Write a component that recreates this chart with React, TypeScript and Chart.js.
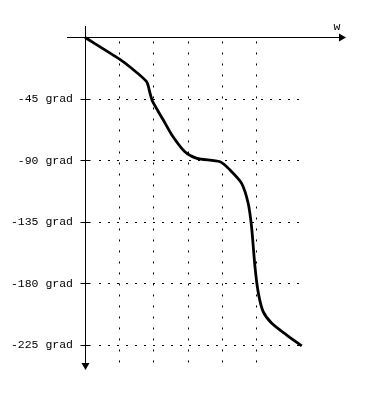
import React, { useEffect, useRef } from "react";
import { Chart, registerables } from "chart.js";

Chart.register(...registerables);

// Phase curve (x in grid units, y in degrees)
const W_VALUES = [0, 1.02, 1.316, 1.8, 1.9, 1.98, 2.29, 2.54, 2.92, 3.27, 3.95, 4.24, 4.58, 4.77, 4.87, 4.97, 5.07, 5.21, 5.46, 5.9, 6.34];
const PHASE_VALUES = [0, -16.0, -21.6, -32.3, -40.6, -47.0, -60.4, -71.3, -83.6, -88.4, -90.9, -96.9, -106.7, -121.1, -138.4, -167.7, -187.2, -200.6, -209.1, -217.7, -225.7];

const Y_TICKS = [-45, -90, -135, -180, -225];
const Y_TICK_LABELS = ["-45 grad", "-90 grad", "-135 grad", "-180 grad", "-225 grad"];
const X_GRID = [1, 2, 3, 4, 5];
const X_AXIS_LABEL = "w";

const X_MIN = -0.526;
const X_MAX = 7.632;
const Y_MIN = -243.3;
const Y_MAX = 8.4;
const H_GRID_END = 6.43;

const FONT = "11.5px 'Liberation Mono', 'DejaVu Sans Mono', monospace";

const axesPlugin = {
  id: "manualAxes",
  beforeDatasetsDraw(chart: any) {
    const ctx = chart.ctx;
    const xs = chart.scales.x;
    const ys = chart.scales.y;
    const x0 = xs.getPixelForValue(0);
    const y0 = ys.getPixelForValue(0);
    const left = xs.getPixelForValue(X_MIN);
    const right = xs.getPixelForValue(X_MAX);
    const top = ys.getPixelForValue(Y_MAX);
    const bottom = ys.getPixelForValue(Y_MIN);
    ctx.save();
    // vertical dotted grid
    ctx.strokeStyle = "#000";
    ctx.lineWidth = 1;
    ctx.setLineDash([2, 9]);
    X_GRID.forEach((v) => {
      const px = Math.round(xs.getPixelForValue(v)) + 0.5;
      ctx.beginPath();
      ctx.moveTo(px, y0 + 4);
      ctx.lineTo(px, bottom + 1);
      ctx.stroke();
    });
    // horizontal dashed grid
    ctx.setLineDash([2, 7]);
    const hEnd = xs.getPixelForValue(H_GRID_END);
    Y_TICKS.forEach((v) => {
      const py = Math.round(ys.getPixelForValue(v)) + 0.5;
      ctx.beginPath();
      ctx.moveTo(x0 + 14, py);
      ctx.lineTo(hEnd, py);
      ctx.stroke();
    });
    ctx.setLineDash([]);
    // axes
    const ax = Math.round(x0) + 0.5;
    const ay = Math.round(y0) + 0.5;
    ctx.beginPath();
    ctx.moveTo(left, ay);
    ctx.lineTo(right - 6, ay);
    ctx.moveTo(ax, top);
    ctx.lineTo(ax, bottom - 5);
    ctx.stroke();
    // ticks
    Y_TICKS.forEach((v) => {
      const py = Math.round(ys.getPixelForValue(v)) + 0.5;
      ctx.beginPath();
      ctx.moveTo(ax - 5, py);
      ctx.lineTo(ax + 5, py);
      ctx.stroke();
    });
    // arrows
    ctx.fillStyle = "#000";
    ctx.beginPath();
    ctx.moveTo(right, ay);
    ctx.lineTo(right - 7, ay - 4);
    ctx.lineTo(right - 7, ay + 4);
    ctx.closePath();
    ctx.fill();
    ctx.beginPath();
    ctx.moveTo(ax, bottom);
    ctx.lineTo(ax - 4, bottom - 7);
    ctx.lineTo(ax + 4, bottom - 7);
    ctx.closePath();
    ctx.fill();
    // labels
    ctx.font = FONT;
    ctx.textAlign = "right";
    ctx.textBaseline = "middle";
    Y_TICKS.forEach((v, i) => {
      const py = ys.getPixelForValue(v);
      ctx.fillText(Y_TICK_LABELS[i], 73, py);
    });
    ctx.textAlign = "center";
    ctx.fillText(X_AXIS_LABEL, right - 9, ay - 11);
    ctx.restore();
  },
};

export default function App() {
  const ref = useRef<HTMLCanvasElement | null>(null);
  useEffect(() => {
    if (!ref.current) return;
    const chart = new Chart(ref.current, {
      type: "line",
      data: {
        datasets: [
          {
            data: W_VALUES.map((w, i) => ({ x: w, y: PHASE_VALUES[i] })),
            borderColor: "#000",
            borderWidth: 2.8,
            pointRadius: 0,
            tension: 0.25,
            fill: false,
            clip: false as any,
          },
        ],
      },
      options: {
        animation: false,
        responsive: true,
        maintainAspectRatio: false,
        layout: { padding: { left: 67, right: 20, top: 26, bottom: 28 } },
        scales: {
          x: { type: "linear", display: false, min: X_MIN, max: X_MAX },
          y: { type: "linear", display: false, min: Y_MIN, max: Y_MAX },
        },
        plugins: { legend: { display: false }, tooltip: { enabled: false } },
      },
      plugins: [axesPlugin],
    });
    return () => chart.destroy();
  }, []);
  return (
    <div style={{ position: "absolute", left: 0, top: 0, width: 366, height: 398, background: "#fff" }}>
      <canvas ref={ref} />
    </div>
  );
}
